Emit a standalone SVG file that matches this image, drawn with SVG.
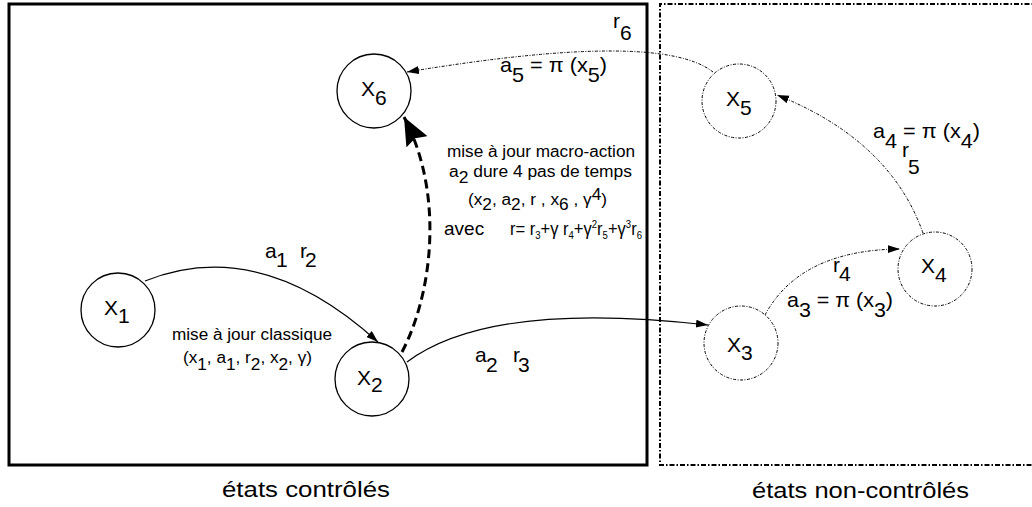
<svg xmlns="http://www.w3.org/2000/svg" width="1032" height="507" viewBox="0 0 1032 507">
<style>
text{font-family:"Liberation Sans",Arial,sans-serif;fill:#000}
.n{font-size:21px}
.l{font-size:21px}
.m{font-size:16px}
.f{font-size:19px}
.s{font-size:11px}
.c{font-size:22px}
.solid{fill:none;stroke:#000;stroke-width:1.2}
.dd{fill:none;stroke:#000;stroke-width:1;stroke-dasharray:3 1.5 1 1.5}
.thick{fill:none;stroke:#000;stroke-width:3;stroke-dasharray:9 5}
.ns{fill:#fff;stroke:#000;stroke-width:1.3}
.nd{fill:#fff;stroke:#000;stroke-width:1;stroke-dasharray:3 1.5 1 1.5}
</style>
<defs>
<marker id="ah" markerUnits="userSpaceOnUse" markerWidth="13" markerHeight="9" refX="12" refY="4" orient="auto"><path d="M0,0 L12,4 L0,8 z" fill="#000"/></marker>
<marker id="big" markerUnits="userSpaceOnUse" markerWidth="29" markerHeight="24" refX="28" refY="12" orient="auto"><path d="M0,0 L28,12 L0,24 L4,12 z" fill="#000"/></marker>
</defs>
<g id="zones">
<rect x="9" y="4" width="638" height="461" fill="none" stroke="#000" stroke-width="3"/>
<path d="M1040,4 H660 V465 H1040" fill="none" stroke="#000" stroke-width="2" stroke-dasharray="5 2 1.5 2"/>
<text class="c" x="222" y="497" textLength="168" lengthAdjust="spacingAndGlyphs">états contrôlés</text>
<text class="c" x="752" y="498" textLength="217" lengthAdjust="spacingAndGlyphs">états non-contrôlés</text>
</g>
<g id="connectors">
<path class="solid" d="M145,281 Q260,235 378,342" marker-end="url(#ah)"/>
<path class="thick" d="M402,352 C432,295 445,195 404,117" marker-end="url(#big)"/>
<path class="solid" d="M407,362 Q490,300 708,325" marker-end="url(#ah)"/>
<path class="dd" d="M765,315 Q800,250 900,249" marker-end="url(#ah)"/>
<path class="dd" d="M923,233 Q890,140 777,95" marker-end="url(#ah)"/>
<path class="dd" d="M713,72 Q660,30 407,72" marker-end="url(#ah)"/>
</g>
<g id="x1"><circle class="ns" cx="118" cy="310" r="37"/><text class="n" x="104" y="315">X<tspan dy="8">1</tspan></text></g>
<g id="x2"><circle class="ns" cx="372" cy="379" r="37"/><text class="n" x="357" y="385">X<tspan dy="7">2</tspan></text></g>
<g id="x6"><circle class="ns" cx="374" cy="91" r="37"/><text class="n" x="361" y="96">X<tspan dy="9">6</tspan></text></g>
<g id="x3"><circle class="nd" cx="741" cy="343" r="37"/><text class="n" x="727" y="352">X<tspan dy="8">3</tspan></text></g>
<g id="x4"><circle class="nd" cx="935" cy="269" r="37"/><text class="n" x="921" y="273">X<tspan dy="9">4</tspan></text></g>
<g id="x5"><circle class="nd" cx="739" cy="101" r="37"/><text class="n" x="726" y="106">X<tspan dy="9">5</tspan></text></g>
<g id="labels">
<text class="l"><tspan x="265" y="258">a</tspan><tspan x="276" y="267">1</tspan><tspan x="300" y="258">r</tspan><tspan x="305" y="267">2</tspan></text>
<text class="m" x="172" y="340" textLength="160" lengthAdjust="spacingAndGlyphs">mise à jour classique</text>
<text class="m" x="183" y="363" textLength="129" lengthAdjust="spacingAndGlyphs">(x<tspan dy="7">1</tspan><tspan dy="-7">, a</tspan><tspan dy="7">1</tspan><tspan dy="-7">, r</tspan><tspan dy="7">2</tspan><tspan dy="-7">, x</tspan><tspan dy="7">2</tspan><tspan dy="-7">, γ)</tspan></text>
<text class="l"><tspan x="475" y="362">a</tspan><tspan x="486" y="372">2</tspan><tspan x="513" y="362">r</tspan><tspan x="518" y="372">3</tspan></text>
<text class="m" x="447" y="157" textLength="188" lengthAdjust="spacingAndGlyphs">mise à jour macro-action</text>
<text class="m" x="449" y="177" textLength="183" lengthAdjust="spacingAndGlyphs">a<tspan dy="6">2</tspan><tspan dy="-6"> dure 4 pas de temps</tspan></text>
<text class="m" x="468" y="205" textLength="139" lengthAdjust="spacingAndGlyphs">(x<tspan dy="5">2</tspan><tspan dy="-5">, a</tspan><tspan dy="5">2</tspan><tspan dy="-5">, r , x</tspan><tspan dy="5">6</tspan><tspan dy="-5"> , γ</tspan><tspan dy="-5">4</tspan><tspan dy="5">)</tspan></text>
<text class="f" x="444" y="235">avec</text>
<text class="f" x="510" y="235" textLength="132" lengthAdjust="spacingAndGlyphs">r= r<tspan class="s" dy="4">3</tspan><tspan dy="-4">+γ r</tspan><tspan class="s" dy="4">4</tspan><tspan dy="-4">+γ</tspan><tspan class="s" dy="-7">2</tspan><tspan dy="7">r</tspan><tspan class="s" dy="4">5</tspan><tspan dy="-4">+γ</tspan><tspan class="s" dy="-7">3</tspan><tspan dy="7">r</tspan><tspan class="s" dy="4">6</tspan></text>
<text class="l"><tspan x="613" y="28">r</tspan><tspan x="620" y="40">6</tspan></text>
<text class="l" x="500" y="72" textLength="107" lengthAdjust="spacingAndGlyphs">a<tspan dy="10">5</tspan><tspan dy="-10"> = π (x</tspan><tspan dy="10">5</tspan><tspan dy="-10">)</tspan></text>
<text class="l" x="873" y="138" textLength="107" lengthAdjust="spacingAndGlyphs">a<tspan dy="10">4</tspan><tspan dy="-10"> = π (x</tspan><tspan dy="10">4</tspan><tspan dy="-10">)</tspan></text>
<text class="l"><tspan x="902" y="157">r</tspan><tspan x="908" y="174">5</tspan></text>
<text class="l"><tspan x="833" y="272">r</tspan><tspan x="839" y="281">4</tspan></text>
<text class="l" x="787" y="307" textLength="106" lengthAdjust="spacingAndGlyphs">a<tspan dy="10">3</tspan><tspan dy="-10"> = π (x</tspan><tspan dy="10">3</tspan><tspan dy="-10">)</tspan></text>
</g>
</svg>
